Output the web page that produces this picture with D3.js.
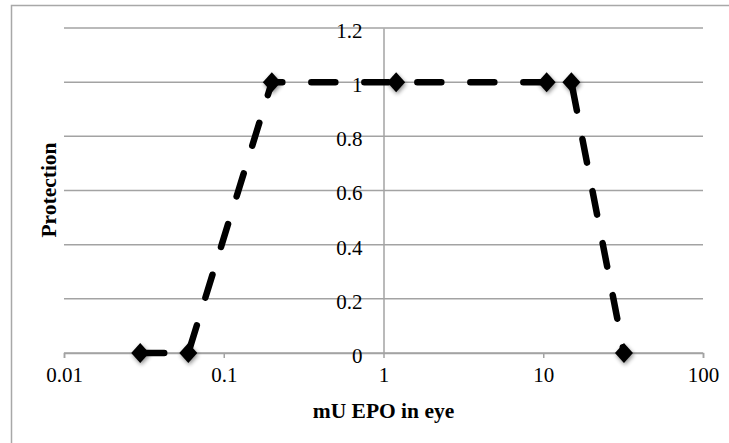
<!DOCTYPE html>
<html>
<head>
<meta charset="utf-8">
<script src="https://cdn.jsdelivr.net/npm/d3@7"></script>
<style>
  body { margin: 0; background: #fff; }
  svg { display: block; }
  text { font-family: "Liberation Serif", "DejaVu Serif", serif; fill: #000; }
</style>
</head>
<body>
<div id="chart"></div>
<script>
const doseValues = [0.03, 0.06, 0.2, 1.2, 10.5, 15, 32]
const protectionValues = [0, 0, 1, 1, 1, 1, 0]
const xTickValues = [0.01, 0.1, 1, 10, 100]
const xTickLabels = ['0.01', '0.1', '1', '10', '100']
const yTickValues = [0, 0.2, 0.4, 0.6, 0.8, 1, 1.2]
const yTickLabels = ['0', '0.2', '0.4', '0.6', '0.8', '1', '1.2']

const width = 729
const height = 443
const margin = { top: 28, right: 26, bottom: 90, left: 64 }
const gridColor = '#a3a3a3'

const svg = d3.select('#chart')
    .append('svg')
    .attr('width', width)
    .attr('height', height)

// soft shadow behind the markers
const defs = svg.append('defs')
const shadow = defs.append('filter').attr('id', 'shadow')
    .attr('x', '-50%').attr('y', '-50%').attr('width', '200%').attr('height', '200%')
shadow.append('feGaussianBlur').attr('in', 'SourceAlpha').attr('stdDeviation', 2.2).attr('result', 'blur')
shadow.append('feOffset').attr('in', 'blur').attr('dx', 1).attr('dy', 2).attr('result', 'off')
shadow.append('feComponentTransfer').attr('in', 'off').attr('result', 'soft')
    .append('feFuncA').attr('type', 'linear').attr('slope', 0.45)
const merge = shadow.append('feMerge')
merge.append('feMergeNode').attr('in', 'soft')
merge.append('feMergeNode').attr('in', 'SourceGraphic')

// chart frame
svg.append('rect')
    .attr('x', 11.5).attr('y', 5.5)
    .attr('width', width + 10).attr('height', height + 10)
    .attr('fill', 'none')
    .attr('stroke', '#a8a8a8')
    .attr('stroke-width', 1.5)

const x = d3.scaleLog().domain([0.01, 100]).range([margin.left, width - margin.right])
const y = d3.scaleLinear().domain([0, 1.2]).range([height - margin.bottom, margin.top])

const g = svg.append('g')

// horizontal gridlines
g.append('g')
    .selectAll('line')
    .data(yTickValues)
    .enter().append('line')
    .attr('x1', x(0.01)).attr('x2', x(100))
    .attr('y1', (d) => y(d)).attr('y2', (d) => y(d))
    .attr('stroke', gridColor)
    .attr('stroke-width', 1.5)

// x axis with ticks pointing down
const xAxis = g.append('g')
    .attr('transform', 'translate(0,' + y(0) + ')')
    .call(d3.axisBottom(x).tickValues(xTickValues).tickSize(5).tickPadding(9)
        .tickFormat((d, i) => xTickLabels[i]))
xAxis.select('.domain').attr('stroke', gridColor).attr('stroke-width', 1.5)
xAxis.selectAll('.tick line').attr('stroke', gridColor).attr('stroke-width', 1.5)
xAxis.selectAll('.tick text').attr('font-size', 21).attr('font-family', '"Liberation Serif", serif')

// vertical axis crosses at x = 1
const yAxis = g.append('g')
    .attr('transform', 'translate(' + x(1) + ',0)')
    .call(d3.axisLeft(y).tickValues(yTickValues).tickSize(0).tickPadding(21)
        .tickFormat((d, i) => yTickLabels[i]))
yAxis.select('.domain').attr('stroke', gridColor).attr('stroke-width', 1.5)
yAxis.selectAll('.tick text').attr('font-size', 21).attr('font-family', '"Liberation Serif", serif')
    .attr('dy', '0.45em')

// axis titles
svg.append('text')
    .attr('x', x(1))
    .attr('y', 418)
    .attr('text-anchor', 'middle')
    .attr('font-size', 21.5)
    .attr('font-weight', 'bold')
    .text('mU EPO in eye')

svg.append('text')
    .attr('transform', 'translate(56,190) rotate(-90)')
    .attr('text-anchor', 'middle')
    .attr('font-size', 21.5)
    .attr('font-weight', 'bold')
    .text('Protection')

const points = doseValues.map((d, i) => ({ dose: d, protection: protectionValues[i] }))

const line = d3.line()
    .x((d) => x(d.dose))
    .y((d) => y(d.protection))

g.append('path')
    .datum(points)
    .attr('d', line)
    .attr('fill', 'none')
    .attr('stroke', '#000')
    .attr('stroke-width', 6.5)
    .attr('stroke-linecap', 'round')
    .attr('stroke-dasharray', '24,29')

g.append('g')
    .attr('filter', 'url(#shadow)')
    .selectAll('path')
    .data(points)
    .enter().append('path')
    .attr('d', 'M0,-10L9,0L0,10L-9,0Z')
    .attr('transform', (d) => 'translate(' + x(d.dose) + ',' + y(d.protection) + ')')
    .attr('fill', '#000')
</script>
</body>
</html>
